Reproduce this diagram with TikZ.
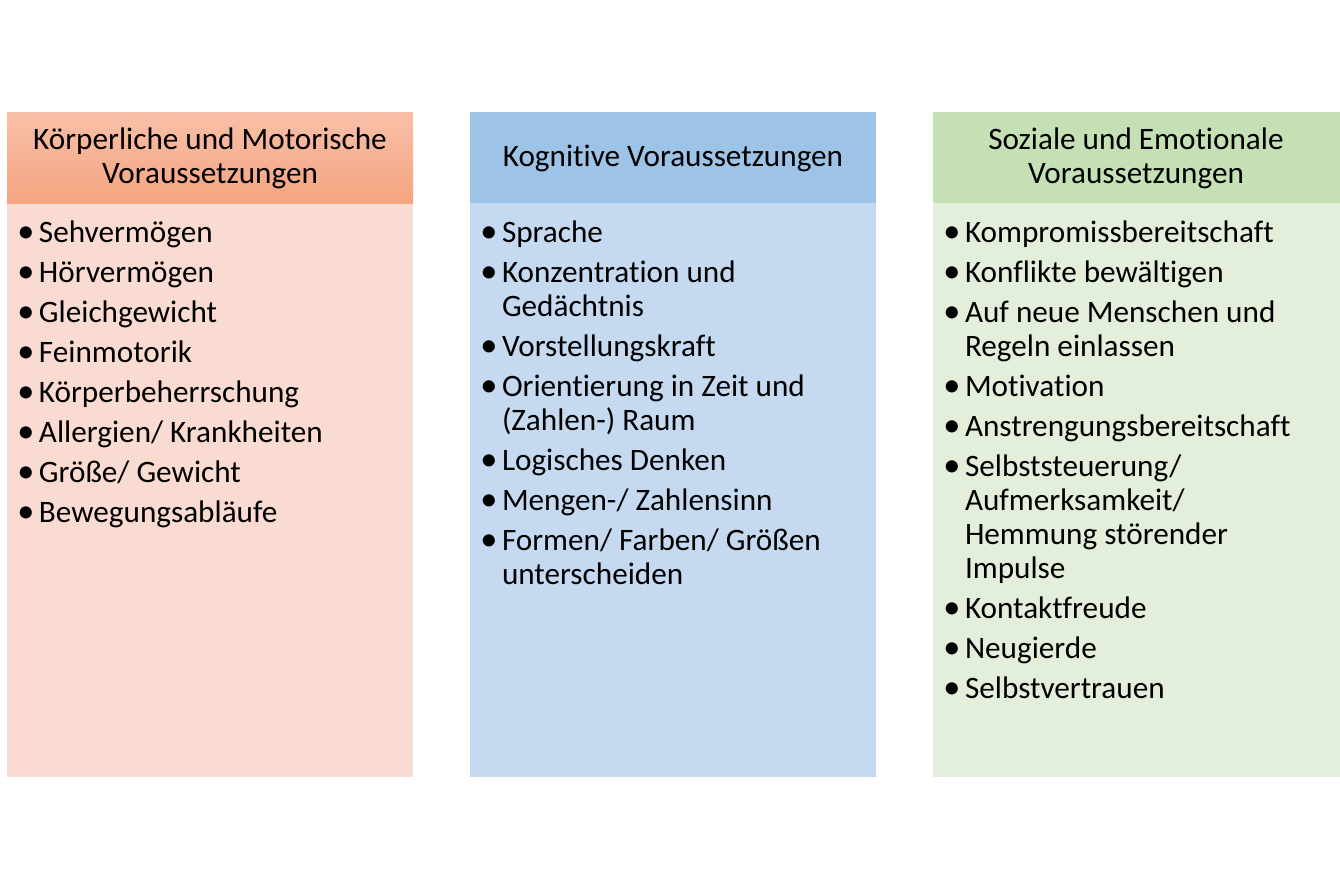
\documentclass[tikz,border=0pt]{standalone}
\usepackage{fontspec}
\setmainfont{Carlito}[Ligatures=NoCommon]
\definecolor{orHtop}{RGB}{248,192,168}
\definecolor{orHbot}{RGB}{245,164,128}
\definecolor{orB}{RGB}{249,219,209}
\definecolor{blH}{RGB}{157,195,230}
\definecolor{blB}{RGB}{197,218,241}
\definecolor{grH}{RGB}{197,224,180}
\definecolor{grB}{RGB}{227,239,218}
\begin{document}
\begin{tikzpicture}[x=0.5pt,y=-0.5pt,
  txt/.style={inner sep=0pt,outer sep=0pt,font=\fontsize{15.6pt}{17pt}\selectfont,text=black},
  itm/.style={txt,anchor=base west},
  hd/.style={txt,anchor=base}]
\useasboundingbox (0,0) rectangle (1340,889);
\fill[white] (0,0) rectangle (1340,889);
\newcommand{\bul}{\llap{\makebox[10.8pt][l]{\scalebox{1.1}{•}}}}
% boxes
\fill[orB] (7,203) rectangle (413,777);
\shade[top color=orHtop,bottom color=orHbot] (7,112) rectangle (413,203);
\fill[blB] (470,203) rectangle (876,777);
\fill[blH] (470,112) rectangle (876,203);
\fill[grB] (933,203) rectangle (1340,777);
\fill[grH] (933,112) rectangle (1340,203);
% headers
\node[hd] (h1a) at (210,149) {Körperliche und Motorische};
\node[hd] (h1b) at (210,183) {Voraussetzungen};
\node[hd] (h2) at (673,166) {Kognitive Voraussetzungen};
\node[hd] (h3a) at (1136,149) {Soziale und Emotionale};
\node[hd] (h3b) at (1136,183) {Voraussetzungen};
% left column
\node[itm] (l1) at (39,242) {\bul Sehvermögen};
\node[itm] (l2) at (39,282) {\bul Hörvermögen};
\node[itm] (l3) at (39,322) {\bul Gleichgewicht};
\node[itm] (l4) at (39,362) {\bul Feinmotorik};
\node[itm] (l5) at (39,402) {\bul Körperbeherrschung};
\node[itm] (l6) at (39,442) {\bul Allergien/ Krankheiten};
\node[itm] (l7) at (39,482) {\bul Größe/ Gewicht};
\node[itm] (l8) at (39,522) {\bul Bewegungsabläufe};
% middle column
\node[itm] (m1) at (502,242) {\bul Sprache};
\node[itm] (m2) at (502,282) {\bul Konzentration und};
\node[itm] (m2b) at (502,316) {Gedächtnis};
\node[itm] (m3) at (502,356) {\bul Vorstellungskraft};
\node[itm] (m4) at (502,396) {\bul Orientierung in Zeit und};
\node[itm] (m4b) at (502,430) {(Zahlen-) Raum};
\node[itm] (m5) at (502,470) {\bul Logisches Denken};
\node[itm] (m6) at (502,510) {\bul Mengen-/ Zahlensinn};
\node[itm] (m7) at (502,550) {\bul Formen/ Farben/ Größen};
\node[itm] (m7b) at (502,584) {unterscheiden};
% right column
\node[itm] (r1) at (965,242) {\bul Kompromissbereitschaft};
\node[itm] (r2) at (965,282) {\bul Konflikte bewältigen};
\node[itm] (r3) at (965,322) {\bul Auf neue Menschen und};
\node[itm] (r3b) at (965,356) {Regeln einlassen};
\node[itm] (r4) at (965,396) {\bul Motivation};
\node[itm] (r5) at (965,436) {\bul Anstrengungsbereitschaft};
\node[itm] (r6) at (965,476) {\bul Selbststeuerung/};
\node[itm] (r6b) at (965,510) {Aufmerksamkeit/};
\node[itm] (r6c) at (965,544) {Hemmung störender};
\node[itm] (r6d) at (965,578) {Impulse};
\node[itm] (r7) at (965,618) {\bul Kontaktfreude};
\node[itm] (r8) at (965,658) {\bul Neugierde};
\node[itm] (r9) at (965,698) {\bul Selbstvertrauen};
\end{tikzpicture}
\end{document}
